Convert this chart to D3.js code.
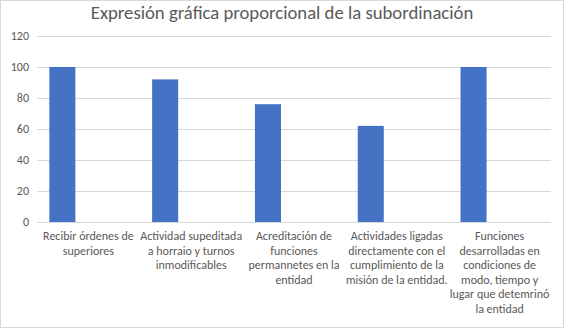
<!DOCTYPE html>
<html>
<head>
<meta charset="utf-8">
<script src="https://cdn.jsdelivr.net/npm/d3@7"></script>
<style>
  body { margin: 0; background: #fff; }
  svg text { font-family: Carlito, Calibri, Lato, sans-serif; fill: #595959; }
</style>
</head>
<body>
<svg id="chart"></svg>
<script>
// chart data
const titleText = 'Expresión gráfica proporcional de la subordinación';
const categories = [
  'Recibir órdenes de\nsuperiores',
  'Actividad supeditada\na horraio y turnos\ninmodificables',
  'Acreditación de\nfunciones\npermannetes en la\nentidad',
  'Actividades ligadas\ndirectamente con el\ncumplimiento de la\nmisión de la entidad.',
  'Funciones\ndesarrolladas en\ncondiciones de\nmodo, tiempo y\nlugar que detemrinó\nla entidad'
];
const values = [100, 92, 76, 62, 100];
const seriesSlots = ['s1', 's2', 's3'];  // excel leaves room for empty series
const yTicks = [0, 20, 40, 60, 80, 100, 120];

const width = 564, height = 329;
const margin = { top: 36, right: 13, bottom: 107, left: 37 };

const svg = d3.select('#chart')
    .attr('width', width)
    .attr('height', height);

// outer frame
svg.append('rect')
    .attr('x', 0.5).attr('y', 0.5)
    .attr('width', width - 1).attr('height', height - 2)
    .attr('fill', '#fff')
    .attr('stroke', '#d9d9d9');

const xScale = d3.scaleBand()
    .domain(categories)
    .range([margin.left, width - margin.right])
    .paddingInner(0.24)
    .paddingOuter(0.12);

const xSlot = d3.scaleBand()
    .domain(seriesSlots)
    .range([0, xScale.bandwidth()]);

const yScale = d3.scaleLinear()
    .domain([0, 120])
    .range([height - margin.bottom, margin.top]);

// gridlines
const yAxis = d3.axisLeft(yScale)
    .tickValues(yTicks)
    .tickSize(-(width - margin.left - margin.right))
    .tickPadding(8)
    .tickFormat(d3.format('d'));

svg.append('g')
    .attr('transform', `translate(${margin.left},0)`)
    .call(yAxis)
    .call(g => g.select('.domain').remove())
    .call(g => g.selectAll('line').attr('stroke', '#d9d9d9'))
    .call(g => g.selectAll('text')
        .attr('fill', '#595959')
        .style('font-size', '12px'));

// bars
svg.append('g')
  .selectAll('rect')
  .data(values)
  .join('rect')
    .attr('x', (d, i) => xScale(categories[i]) + xSlot('s1'))
    .attr('y', d => yScale(d))
    .attr('width', xSlot.bandwidth())
    .attr('height', d => yScale(0) - yScale(d))
    .attr('fill', '#4472c4');

// category labels
const step = xScale.step();
const labels = svg.append('g')
  .selectAll('text')
  .data(categories)
  .join('text')
    .attr('text-anchor', 'middle')
    .attr('x', d => margin.left + categories.indexOf(d) * step + step / 2)
    .attr('y', height - margin.bottom + 18)
    .style('font-size', '12px');

labels.selectAll('tspan')
  .data(d => d.split('\n'))
  .join('tspan')
    .attr('x', function() { return this.parentNode.getAttribute('x'); })
    .attr('dy', (d, i) => i === 0 ? 0 : 14.5)
    .text(d => d);

// title
svg.append('text')
    .attr('x', width / 2)
    .attr('y', 19)
    .attr('text-anchor', 'middle')
    .style('font-size', '18.7px')
    .text(titleText);
</script>
</body>
</html>
